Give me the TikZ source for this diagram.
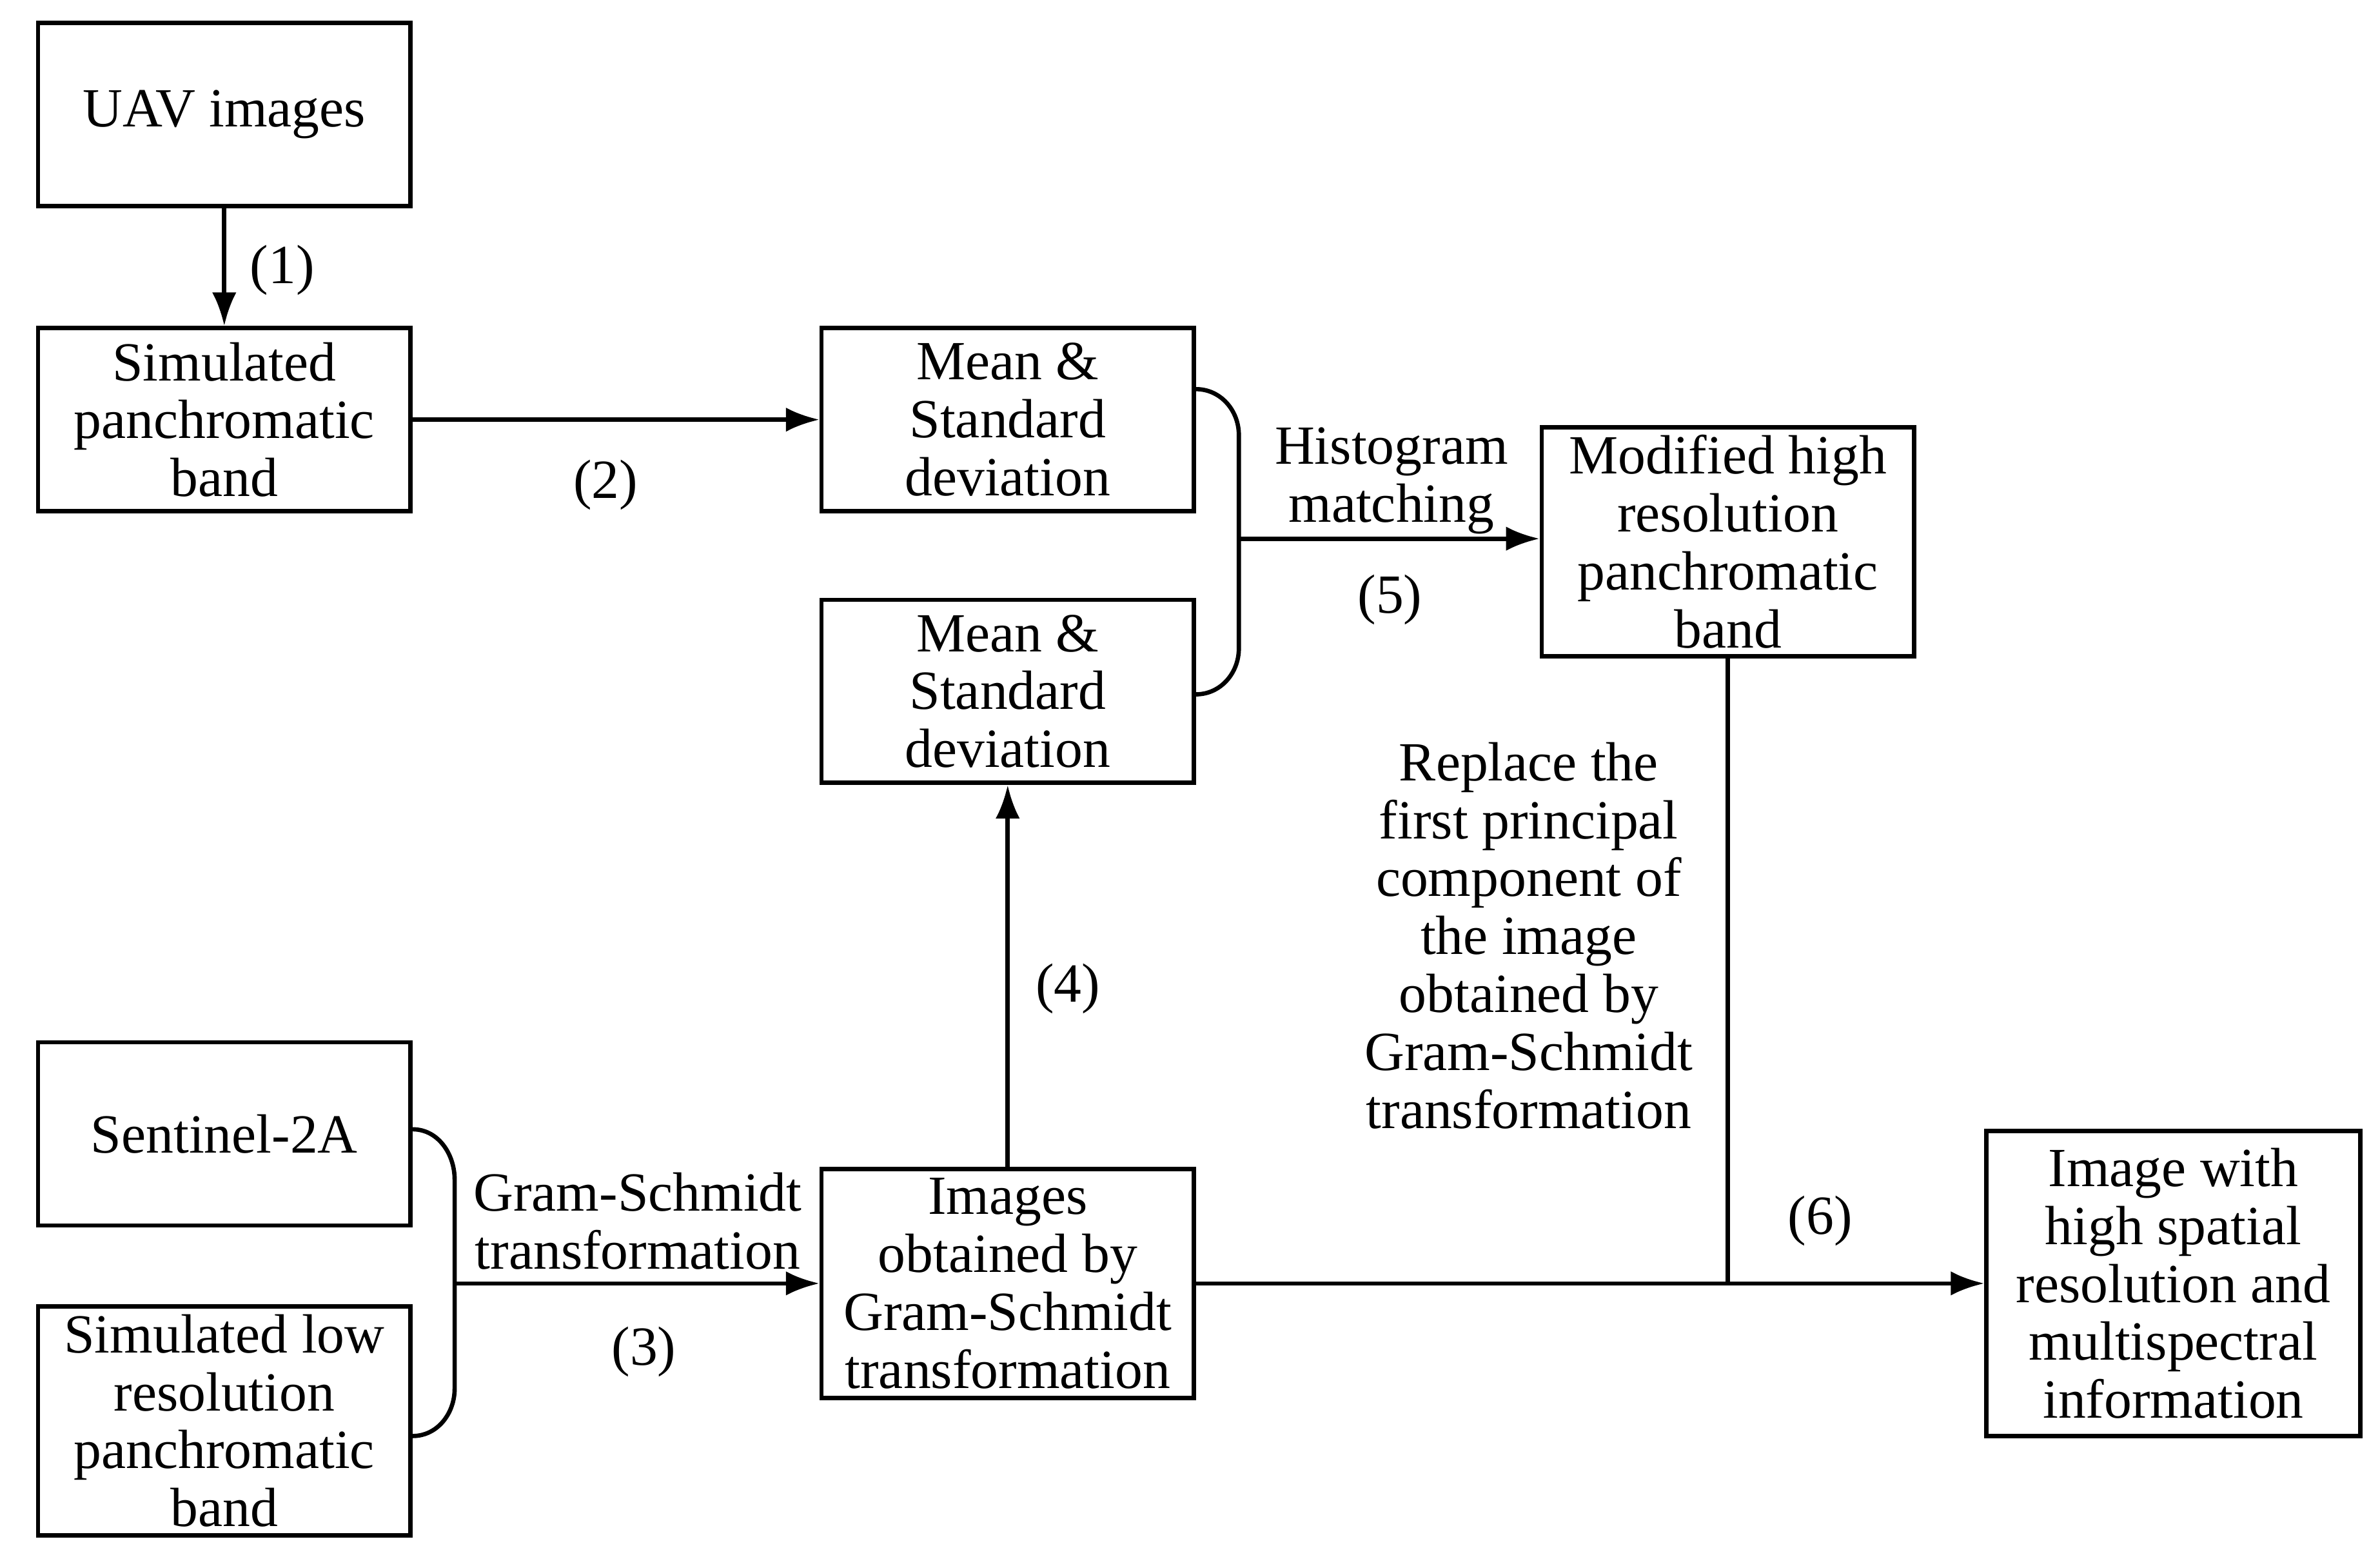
\documentclass[tikz,border=0pt]{standalone}
\usepackage{fontspec}
\setmainfont{Liberation Serif}
\usetikzlibrary{arrows.meta}
\begin{document}
\begin{tikzpicture}[
  box/.style={draw, line width=0.8pt, minimum width=2.44cm, align=center,
    inner sep=1pt, font=\fontsize{10.3}{10.8}\selectfont},
  txt/.style={align=center, font=\fontsize{10.3}{10.8}\selectfont},
  arr/.style={line width=0.8pt, -{Latex[length=2.2mm,width=1.6mm]}},
  ln/.style={line width=0.8pt}]
  \useasboundingbox (0,0) rectangle (15.6,-10.2);
  % boxes
  \node[box, minimum height=1.2cm] (uav) at (1.47,-0.75) {UAV images};
  \node[box, minimum height=1.2cm] (pan) at (1.47,-2.75) {Simulated\\panchromatic\\band};
  \node[box, minimum height=1.2cm] (ms1) at (6.605,-2.75) {Mean \&\\Standard\\deviation};
  \node[box, minimum height=1.2cm] (ms2) at (6.605,-4.53) {Mean \&\\Standard\\deviation};
  \node[box, minimum height=1.5cm] (mod) at (11.325,-3.55) {Modified high\\resolution\\panchromatic\\band};
  \node[box, minimum height=1.2cm] (sen) at (1.47,-7.43) {Sentinel-2A};
  \node[box, minimum height=1.5cm] (low) at (1.47,-9.31) {Simulated low\\resolution\\panchromatic\\band};
  \node[box, minimum height=1.5cm] (gs) at (6.605,-8.41) {Images\\obtained by\\Gram-Schmidt\\transformation};
  \node[box, minimum height=2.0cm, minimum width=2.45cm] (out) at (14.245,-8.41) {Image with\\high spatial\\resolution and\\multispectral\\information};
  % brace junctions
  \coordinate (b1) at (8.12,-3.53);
  \coordinate (b2) at (2.98,-8.41);
  \coordinate (j6) at (11.325,-8.41);
  % connectors
  \draw[arr] (uav) -- (pan);
  \draw[arr] (pan) -- (ms1);
  \draw[ln] ([yshift=0.2cm]ms1.east) to[out=0,in=90] (8.12,-2.85) -- (8.12,-4.25)
    to[out=-90,in=0] ([yshift=-0.02cm]ms2.east);
  \draw[arr] (b1) -- (b1 -| mod.west);
  \draw[arr] (gs) -- (ms2);
  \draw[ln] ([yshift=0.03cm]sen.east) to[out=0,in=90] (2.98,-7.73) -- (2.98,-9.1)
    to[out=-90,in=0] ([yshift=-1.98cm]sen.east);
  \draw[arr] (b2) -- (b2 -| gs.west);
  \draw[arr] (gs) -- (out);
  \draw[ln] (mod) -- (j6);
  % labels
  \node[txt] (l1) at (1.85,-1.77) {(1)};
  \node[txt] (l2) at (3.97,-3.18) {(2)};
  \node[txt] (lh) at (9.12,-3.15) {Histogram\\matching};
  \node[txt] (l5) at (9.11,-3.93) {(5)};
  \node[txt] (l4) at (7.0,-6.48) {(4)};
  \node[txt] (lg) at (4.18,-8.0) {Gram-Schmidt\\transformation};
  \node[txt] (l3) at (4.22,-8.86) {(3)};
  \node[txt] (lr) at (10.02,-6.13) {Replace the\\first principal\\component of\\the image\\obtained by\\Gram-Schmidt\\transformation};
  \node[txt] (l6) at (11.93,-8.0) {(6)};
\end{tikzpicture}
\end{document}
